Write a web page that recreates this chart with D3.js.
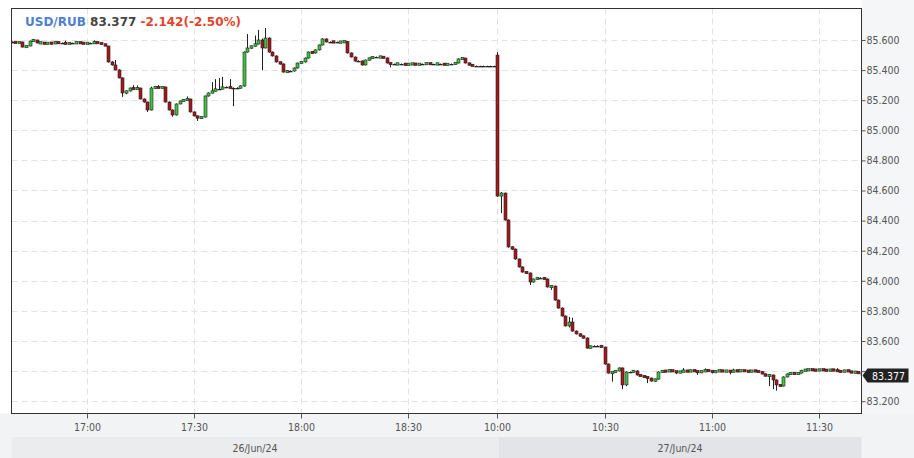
<!DOCTYPE html>
<html><head><meta charset="utf-8">
<script src="https://cdn.jsdelivr.net/npm/d3@7"></script>
<style>html,body{margin:0;padding:0;background:#fff;}svg{display:block;}</style>
</head><body>
<svg id="c" width="914" height="458"></svg>
<script>
// ---- DATA ----
const symbol = "USD/RUB";
const lastPrice = "83.377";
const change = "-2.142(-2.50%)";
const days = ["26/Jun/24", "27/Jun/24"];
const dayStarts = ["16:39", "10:00"];
const xTickLabels = ["17:00","17:30","18:00","18:30","10:00","10:30","11:00","11:30"];
const xTickDay = [0,0,0,0,1,1,1,1];
const yTicks = [83.2,83.4,83.6,83.8,84.0,84.2,84.4,84.6,84.8,85.0,85.2,85.4,85.6];
// 1-minute candles [open, high, low, close]
const day1Candles = [
[85.587,85.591,85.583,85.587],[85.587,85.589,85.578,85.580],[85.580,85.590,85.579,85.587],[85.587,85.588,85.550,85.553],
[85.553,85.562,85.550,85.560],[85.560,85.596,85.558,85.593],[85.593,85.607,85.590,85.600],[85.600,85.602,85.578,85.580],
[85.580,85.586,85.578,85.582],[85.582,85.584,85.572,85.575],[85.575,85.582,85.573,85.580],[85.580,85.583,85.576,85.578],
[85.578,85.590,85.577,85.585],[85.585,85.587,85.578,85.580],[85.580,85.584,85.578,85.581],[85.581,85.595,85.572,85.574],
[85.574,85.582,85.572,85.580],[85.580,85.583,85.577,85.579],[85.579,85.589,85.578,85.584],[85.584,85.586,85.578,85.580],
[85.580,85.582,85.573,85.576],[85.576,85.581,85.574,85.579],[85.579,85.583,85.577,85.580],[85.580,85.597,85.578,85.585],
[85.585,85.587,85.578,85.580],[85.580,85.582,85.572,85.574],[85.574,85.576,85.558,85.560],[85.560,85.562,85.450,85.454],
[85.454,85.460,85.430,85.434],[85.434,85.467,85.398,85.401],[85.401,85.405,85.345,85.348],[85.348,85.352,85.222,85.248],
[85.248,85.264,85.240,85.261],[85.261,85.284,85.258,85.281],[85.281,85.300,85.270,85.274],[85.274,85.298,85.272,85.281],
[85.281,85.283,85.205,85.208],[85.208,85.212,85.184,85.188],[85.188,85.190,85.122,85.135],[85.135,85.290,85.132,85.281],
[85.281,85.292,85.278,85.288],[85.288,85.300,85.279,85.281],[85.281,85.291,85.279,85.288],[85.288,85.290,85.185,85.188],
[85.188,85.192,85.132,85.135],[85.135,85.138,85.090,85.102],[85.102,85.178,85.098,85.175],[85.175,85.198,85.172,85.195],
[85.195,85.205,85.192,85.201],[85.201,85.225,85.198,85.208],[85.208,85.210,85.118,85.122],[85.122,85.125,85.092,85.095],
[85.095,85.098,85.062,85.082],[85.082,85.092,85.078,85.088],[85.088,85.231,85.085,85.228],[85.228,85.252,85.224,85.248],
[85.248,85.320,85.245,85.261],[85.261,85.340,85.258,85.274],[85.274,85.348,85.270,85.274],[85.274,85.355,85.272,85.288],
[85.288,85.292,85.284,85.288],[85.288,85.340,85.278,85.281],[85.281,85.285,85.160,85.281],[85.281,85.286,85.277,85.281],
[85.281,85.298,85.278,85.294],[85.294,85.524,85.290,85.520],[85.520,85.640,85.516,85.547],[85.547,85.564,85.540,85.560],
[85.560,85.630,85.556,85.573],[85.573,85.667,85.570,85.600],[85.600,85.610,85.400,85.547],[85.547,85.680,85.544,85.613],
[85.613,85.618,85.515,85.520],[85.520,85.524,85.490,85.494],[85.494,85.498,85.450,85.454],[85.454,85.458,85.437,85.441],
[85.441,85.444,85.383,85.387],[85.387,85.398,85.384,85.394],[85.394,85.398,85.388,85.394],[85.394,85.418,85.390,85.414],
[85.414,85.450,85.410,85.447],[85.447,85.458,85.444,85.454],[85.454,85.484,85.450,85.480],[85.480,85.524,85.476,85.520],
[85.520,85.526,85.510,85.514],[85.514,85.538,85.510,85.534],[85.534,85.570,85.530,85.567],[85.567,85.612,85.564,85.607],
[85.607,85.610,85.584,85.587],[85.587,85.591,85.584,85.588],[85.588,85.590,85.583,85.586],[85.586,85.589,85.582,85.585],
[85.585,85.590,85.583,85.587],[85.587,85.593,85.585,85.590],[85.590,85.592,85.510,85.514],[85.514,85.517,85.484,85.487],
[85.487,85.490,85.457,85.460],[85.460,85.465,85.456,85.461],[85.461,85.463,85.430,85.434],[85.434,85.470,85.431,85.467],
[85.467,85.484,85.464,85.480],[85.480,85.490,85.477,85.487],[85.487,85.490,85.483,85.486],[85.486,85.491,85.484,85.488],
[85.488,85.490,85.478,85.481],[85.481,85.483,85.444,85.447],[85.447,85.449,85.418,85.441],[85.441,85.444,85.437,85.440],
[85.440,85.445,85.438,85.442],[85.442,85.444,85.438,85.441],[85.441,85.443,85.433,85.436],[85.436,85.442,85.434,85.440],
[85.440,85.445,85.438,85.442],[85.442,85.444,85.434,85.437],[85.437,85.443,85.435,85.440],[85.440,85.444,85.438,85.441],
[85.441,85.448,85.439,85.445],[85.445,85.447,85.438,85.441],[85.441,85.443,85.437,85.440],[85.440,85.445,85.438,85.442],
[85.442,85.444,85.439,85.441],[85.441,85.443,85.433,85.436],[85.436,85.443,85.434,85.440],[85.440,85.444,85.438,85.441],
[85.441,85.450,85.439,85.447],[85.447,85.478,85.444,85.474],[85.474,85.484,85.470,85.480],[85.480,85.482,85.444,85.447],
[85.447,85.449,85.431,85.434],[85.434,85.436,85.426,85.428],[85.428,85.430,85.425,85.427],[85.427,85.429,85.425,85.427],
[85.427,85.430,85.426,85.428],[85.428,85.429,85.425,85.427],[85.427,85.429,85.425,85.427],[85.427,85.429,85.425,85.427]
];
const day2Candles = [
[85.500,85.520,84.558,84.563],[84.563,84.590,84.450,84.583],[84.583,84.586,84.400,84.404],[84.404,84.408,84.220,84.225],
[84.225,84.230,84.205,84.211],[84.211,84.214,84.140,84.145],[84.145,84.148,84.088,84.092],[84.092,84.096,84.054,84.058],
[84.058,84.062,84.048,84.052],[84.052,84.055,83.972,83.992],[83.992,84.015,83.988,84.012],[84.012,84.022,84.008,84.019],
[84.019,84.023,84.015,84.019],[84.019,84.022,84.009,84.012],[84.012,84.015,83.955,83.959],[83.959,83.970,83.940,83.965],
[83.965,83.968,83.868,83.872],[83.872,83.876,83.815,83.819],[83.819,83.823,83.762,83.766],[83.766,83.770,83.696,83.700],
[83.700,83.760,83.690,83.726],[83.726,83.755,83.662,83.666],[83.666,83.670,83.643,83.647],[83.647,83.651,83.628,83.633],
[83.633,83.636,83.616,83.620],[83.620,83.624,83.549,83.553],[83.553,83.570,83.550,83.567],[83.567,83.571,83.563,83.567],
[83.567,83.572,83.564,83.568],[83.568,83.572,83.557,83.560],[83.560,83.563,83.443,83.447],[83.447,83.450,83.383,83.387],
[83.387,83.398,83.330,83.394],[83.394,83.405,83.390,83.401],[83.401,83.425,83.397,83.421],[83.421,83.424,83.280,83.308],
[83.308,83.398,83.300,83.394],[83.394,83.398,83.390,83.394],[83.394,83.406,83.390,83.401],[83.401,83.405,83.370,83.374],
[83.374,83.378,83.363,83.367],[83.367,83.370,83.357,83.361],[83.361,83.365,83.320,83.354],[83.354,83.357,83.330,83.334],
[83.334,83.350,83.330,83.347],[83.347,83.398,83.343,83.394],[83.394,83.405,83.390,83.401],[83.401,83.405,83.394,83.398],
[83.398,83.410,83.395,83.405],[83.405,83.408,83.396,83.399],[83.399,83.402,83.380,83.392],[83.392,83.399,83.389,83.396],
[83.396,83.420,83.393,83.403],[83.403,83.406,83.394,83.397],[83.397,83.409,83.394,83.405],[83.405,83.408,83.397,83.400],
[83.400,83.403,83.375,83.393],[83.393,83.401,83.390,83.398],[83.398,83.418,83.395,83.406],[83.406,83.409,83.398,83.401],
[83.401,83.404,83.385,83.394],[83.394,83.402,83.391,83.399],[83.399,83.407,83.396,83.404],[83.404,83.407,83.395,83.398],
[83.398,83.405,83.395,83.402],[83.402,83.405,83.378,83.396],[83.396,83.416,83.393,83.403],[83.403,83.406,83.397,83.400],
[83.400,83.407,83.397,83.404],[83.404,83.407,83.398,83.401],[83.401,83.404,83.394,83.397],[83.397,83.406,83.394,83.403],
[83.403,83.405,83.396,83.399],[83.399,83.402,83.393,83.396],[83.396,83.399,83.378,83.381],[83.381,83.384,83.364,83.367],
[83.367,83.378,83.300,83.374],[83.374,83.377,83.280,83.341],[83.341,83.345,83.270,83.308],[83.308,83.312,83.297,83.301],
[83.301,83.365,83.298,83.361],[83.361,83.385,83.358,83.381],[83.381,83.391,83.378,83.387],[83.387,83.390,83.377,83.381],
[83.381,83.391,83.378,83.387],[83.387,83.409,83.384,83.405],[83.405,83.410,83.402,83.407],[83.407,83.414,83.404,83.410],
[83.410,83.412,83.405,83.408],[83.408,83.411,83.402,83.405],[83.405,83.414,83.403,83.410],[83.410,83.412,83.404,83.407],
[83.407,83.410,83.401,83.404],[83.404,83.413,83.402,83.409],[83.409,83.411,83.403,83.406],[83.406,83.420,83.397,83.400],
[83.400,83.403,83.392,83.395],[83.395,83.409,83.393,83.405],[83.405,83.408,83.395,83.398],[83.398,83.401,83.387,83.390],
[83.390,83.400,83.386,83.396],[83.396,83.399,83.381,83.384],[83.384,83.388,83.374,83.377]
];

// ---- LAYOUT ----
const W = 914, H = 458;
const L = 11.5, R = 861.5, T = 8.5, B = 413.5;
const FONT = "'DejaVu Sans Condensed','DejaVu Sans',sans-serif";
const svg = d3.select("#c");

const candles = day1Candles.map((d,i)=>({o:d[0],h:d[1],l:d[2],c:d[3],slot:i}))
  .concat(day2Candles.map((d,i)=>({o:d[0],h:d[1],l:d[2],c:d[3],slot:day1Candles.length+i})));
const nSlots = candles.length;
const toMin = s => { const p = s.split(":"); return +p[0]*60 + +p[1]; };
const dayOffset = [0, day1Candles.length];
const slotOf = (label, day) => dayOffset[day] + toMin(label) - toMin(dayStarts[day]);

const x = d3.scaleLinear().domain([0, nSlots - 1]).range([11.7, 861.8]);
const y = d3.scaleLinear().domain([83.1216, 85.8126]).range([413, 8]);

// backgrounds
svg.append("rect").attr("x",0).attr("y",0).attr("width",W).attr("height",H).attr("fill","#fff");
svg.append("rect").attr("x",R).attr("y",0).attr("width",W-R).attr("height",H).attr("fill","#f4f6f8");
svg.append("rect").attr("x",0).attr("y",B).attr("width",W).attr("height",H-B).attr("fill","#f2f3f5");
const bandX = [L, x(dayOffset[1]) + 1, R];
svg.selectAll("rect.band").data(days).join("rect").attr("class","band")
  .attr("x",(d,i)=>bandX[i]).attr("y",437).attr("width",(d,i)=>bandX[i+1]-bandX[i]).attr("height",H-437)
  .attr("fill",(d,i)=> i===0 ? "#ebecee" : "#e3e4e7");
svg.selectAll("text.day").data(days).join("text").attr("class","day")
  .attr("x",(d,i)=>(bandX[i]+bandX[i+1])/2).attr("y",452).attr("text-anchor","middle")
  .attr("font-family",FONT).attr("font-size",10.5).attr("fill","#555").text(d=>d);

// plot area
svg.append("rect").attr("x",L).attr("y",T).attr("width",R-L).attr("height",B-T).attr("fill","#fff");

// grid
const xTickSlots = xTickLabels.map((t,i)=>slotOf(t, xTickDay[i]));
svg.append("g").selectAll("line").data(yTicks).join("line")
  .attr("x1",L).attr("x2",R).attr("y1",d=>Math.round(y(d))+0.5).attr("y2",d=>Math.round(y(d))+0.5)
  .attr("stroke","#e2e2e2").attr("stroke-dasharray","6,4");
svg.append("g").selectAll("line").data(xTickSlots).join("line")
  .attr("y1",T).attr("y2",B).attr("x1",d=>Math.round(x(d))+0.5).attr("x2",d=>Math.round(x(d))+0.5)
  .attr("stroke","#e2e2e2").attr("stroke-dasharray","6,4");

// clip
svg.append("clipPath").attr("id","clip").append("rect").attr("x",L).attr("y",T).attr("width",R-L).attr("height",B-T);
const g = svg.append("g").attr("clip-path","url(#clip)");

const UP = "#3fc23f", DOWN = "#a8161b";
candles.forEach(d=>{
  const cx = Math.round(x(d.slot));
  g.append("line").attr("x1",cx+0.5).attr("x2",cx+0.5).attr("y1",y(d.h)).attr("y2",y(d.l))
    .attr("stroke","#222").attr("stroke-width",1);
  let top = y(Math.max(d.o,d.c)), bot = y(Math.min(d.o,d.c));
  if (Math.abs(d.o - d.c) < 0.0015) {
    g.append("rect").attr("x",cx-1.5).attr("y",Math.round(top)).attr("width",4).attr("height",1.3).attr("fill","#222");
  } else {
    if (bot - top < 2.4) { const m = (top+bot)/2; top = m - 1.2; bot = m + 1.2; }
    g.append("rect").attr("x",cx-1).attr("y",top).attr("width",3).attr("height",bot-top)
      .attr("fill", d.c >= d.o ? UP : DOWN).attr("stroke","#222").attr("stroke-width",0.6);
  }
});

// frame
svg.append("rect").attr("x",L).attr("y",T).attr("width",R-L).attr("height",B-T)
  .attr("fill","none").attr("stroke","#333").attr("stroke-width",1);

// y axis (the 83.400 label sits under the last-price tag, as in the original)
const yAxis = d3.axisRight(y).tickValues(yTicks).tickSize(4)
  .tickFormat(d => Math.abs(d - +lastPrice) < 0.05 ? "" : d3.format(".3f")(d));
const ya = svg.append("g").attr("transform",`translate(${R},0)`).call(yAxis);
ya.select(".domain").remove();
ya.selectAll("line").attr("stroke","#555");
ya.selectAll("text").attr("font-family",FONT).attr("font-size",10.5).attr("fill","#555").attr("x",5);

// x axis
const xa = svg.append("g").attr("transform",`translate(0,${B})`);
xa.selectAll("line").data(xTickSlots).join("line")
  .attr("x1",d=>Math.round(x(d))+0.5).attr("x2",d=>Math.round(x(d))+0.5).attr("y1",0).attr("y2",5).attr("stroke","#555");
xa.selectAll("text").data(xTickLabels).join("text")
  .attr("x",(d,i)=>Math.round(x(xTickSlots[i]))+0.5).attr("y",17).attr("text-anchor","middle")
  .attr("font-family",FONT).attr("font-size",10.5).attr("fill","#555").text(d=>d);

// last price tag
const ly = Math.round(y(+lastPrice)) + 0.5;
svg.append("path").attr("d",`M${R+1},${ly} L${R+6},${ly-7} L${R+47},${ly-7} L${R+47},${ly+7} L${R+6},${ly+7} Z`)
  .attr("fill","#222");
svg.append("text").attr("x",R+27).attr("y",ly+4).attr("text-anchor","middle")
  .attr("font-family",FONT).attr("font-size",10.5).attr("fill","#fff").text(lastPrice);

// title
const title = svg.append("text").attr("x",25).attr("y",26).attr("font-family","'DejaVu Sans',sans-serif")
  .attr("font-size",12).attr("font-weight","bold");
title.append("tspan").attr("fill","#4f7fd1").text(symbol + " ");
title.append("tspan").attr("fill","#444").text(lastPrice + " ");
title.append("tspan").attr("fill","#e4442b").text(change);
</script>
</body></html>
